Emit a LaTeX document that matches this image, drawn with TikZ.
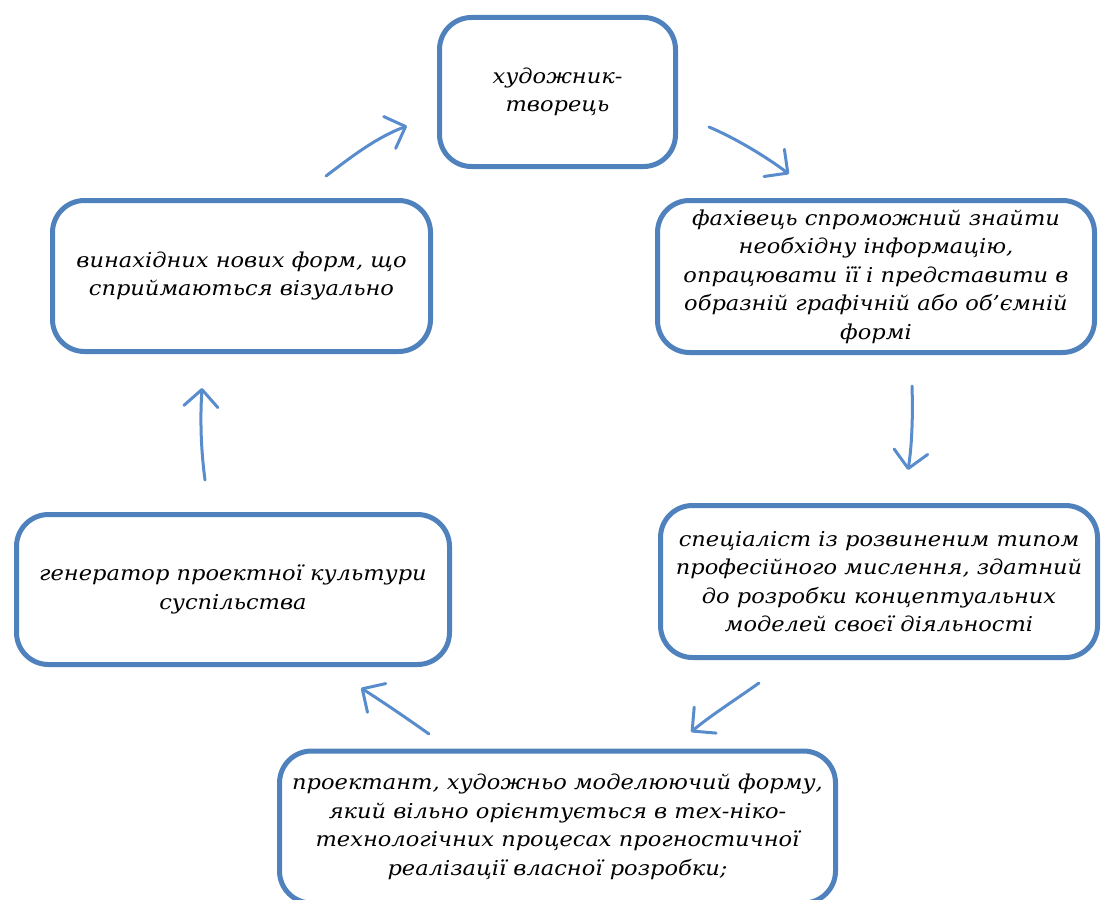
\documentclass[tikz,border=0pt]{standalone}
\usepackage{fontspec}
\newfontfamily\boxfont{DejaVu Serif}[FakeStretch=1.1]
\usetikzlibrary{arrows.meta}
\definecolor{boxblue}{RGB}{79,129,189}
\definecolor{arrblue}{RGB}{88,140,204}
\tikzset{
  stagebox/.style={draw=boxblue, line width=5pt, rounded corners=32pt, fill=white,
    align=center, inner sep=0pt,
    font=\boxfont\itshape\fontsize{20.5}{28.5}\selectfont},
  cyclearrow/.style={draw=arrblue, line width=3pt, line cap=round,
    -{Straight Barb[length=17pt,width=34pt,line width=3pt,round]}}
}
\begin{document}
\begin{tikzpicture}[x=1pt,y=-1pt]
\useasboundingbox (0,0) rectangle (1102,899);
\clip (0,0) rectangle (1102,899);
\node[stagebox, minimum width=236pt, minimum height=149pt] (b1) at (557.5,92)
  {художник-\\творець};
\node[stagebox, minimum width=437pt, minimum height=152pt] (b2) at (876,276.5)
  {фахівець спроможний знайти\\необхідну інформацію,\\опрацювати її і представити в\\образній графічній або об’ємній\\формі};
\node[stagebox, minimum width=437pt, minimum height=152pt] (b3) at (879,581.5)
  {спеціаліст із розвиненим типом\\професійного мислення, здатний\\до розробки концептуальних\\моделей своєї діяльності};
\node[stagebox, minimum width=556pt, minimum height=152pt] (b4) at (557.5,827)
  {проектант, художньо моделюючий форму,\\який вільно орієнтується в тех-ніко-\\технологічних процесах прогностичної\\реалізації власної розробки;};
\node[stagebox, minimum width=378pt, minimum height=151pt] (b5) at (241.5,276)
  {винахідних нових форм, що\\сприймаються візуально};
\node[stagebox, minimum width=433pt, minimum height=150pt] (b6) at (233,589.5)
  {генератор проектної культури\\суспільства};
% arrow end points
\coordinate (a1s) at (326,176);
\coordinate (a1e) at (407,126);
\coordinate (a2s) at (709,127);
\coordinate (a2e) at (789,174);
\coordinate (a3s) at (912,386);
\coordinate (a3e) at (908,470);
\coordinate (a4s) at (759,683);
\coordinate (a4e) at (691,732);
\coordinate (a5s) at (429,734);
\coordinate (a5e) at (361,688);
\coordinate (a6s) at (205,480);
\coordinate (a6e) at (202,388);
\draw[cyclearrow] (a1s) .. controls (350,158) and (375,138) .. (a1e);
\draw[cyclearrow] (a2s) .. controls (735,138) and (765,156) .. (a2e);
\draw[cyclearrow] (a3s) .. controls (913,415) and (912,445) .. (a3e);
\draw[cyclearrow] (a4s) .. controls (735,700) and (710,716) .. (a4e);
\draw[cyclearrow] (a5s) .. controls (405,717) and (383,702) .. (a5e);
\draw[cyclearrow] (a6s) .. controls (201,450) and (200,420) .. (a6e);
\end{tikzpicture}
\end{document}
